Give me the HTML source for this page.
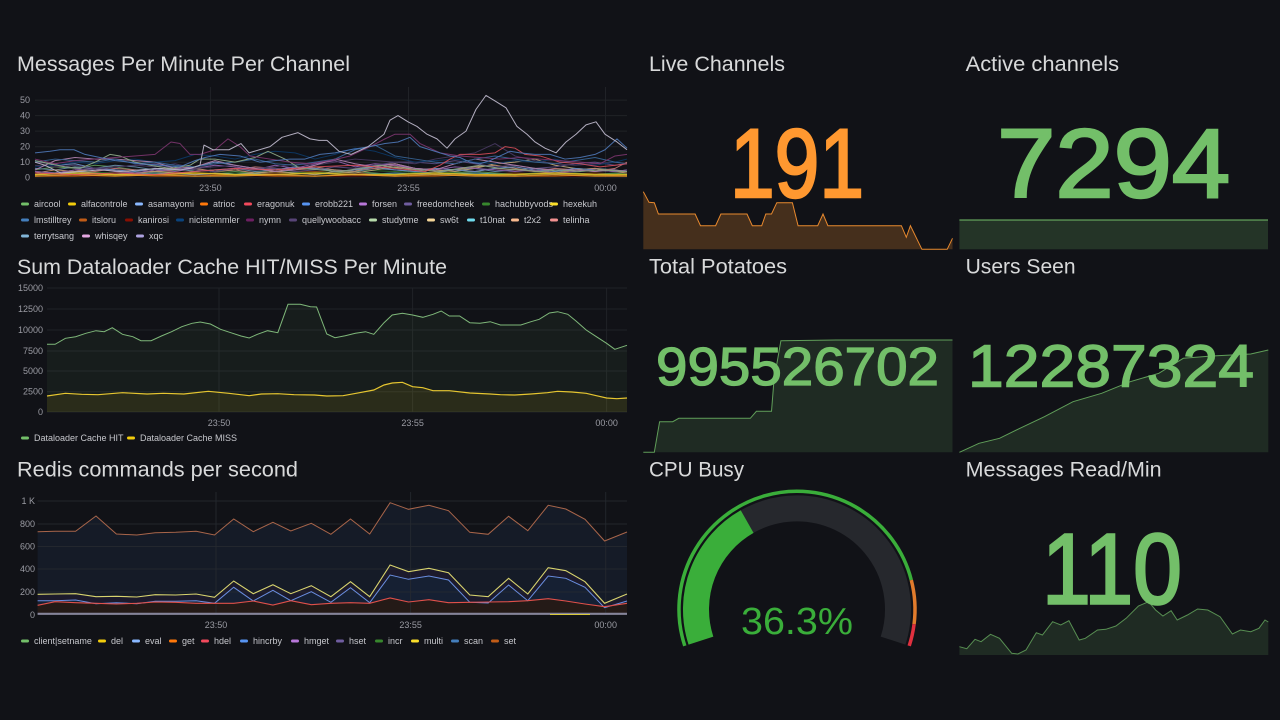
<!DOCTYPE html>
<html><head><meta charset="utf-8">
<style>
html,body{margin:0;padding:0;background:#111217;}
svg{display:block;}
text{font-family:"Liberation Sans",sans-serif;}
.t{fill:#d8d9da;font-size:21px;}
.ax{fill:#9a9ba3;font-size:9px;}
.lg{fill:#c6c7cc;font-size:9px;}
.g{stroke:#202227;stroke-width:1;}
.s{fill:none;stroke-width:1;vector-effect:non-scaling-stroke;stroke-linejoin:round;}
</style></head>
<body>
<svg width="1280" height="720" viewBox="0 0 1280 720" xmlns="http://www.w3.org/2000/svg">
<rect width="1280" height="720" fill="#111217"/>

<!-- ============ Panel 1 ============ -->
<text class="t" x="17" y="71" textLength="333" lengthAdjust="spacingAndGlyphs">Messages Per Minute Per Channel</text>
<g class="g">
<line x1="35" y1="100.1" x2="627" y2="100.1"/><line x1="35" y1="115.6" x2="627" y2="115.6"/>
<line x1="35" y1="131.1" x2="627" y2="131.1"/><line x1="35" y1="146.7" x2="627" y2="146.7"/>
<line x1="35" y1="162.2" x2="627" y2="162.2"/><line x1="35" y1="177.7" x2="627" y2="177.7"/>
<line x1="210.4" y1="87" x2="210.4" y2="178"/><line x1="408.5" y1="87" x2="408.5" y2="178"/><line x1="605.5" y1="87" x2="605.5" y2="178"/>
</g>
<g class="ax" text-anchor="end">
<text x="30" y="103">50</text><text x="30" y="118.5">40</text><text x="30" y="134">30</text>
<text x="30" y="149.7">20</text><text x="30" y="165.2">10</text><text x="30" y="180.7">0</text>
</g>
<g class="ax" text-anchor="middle">
<text x="210.4" y="191">23:50</text><text x="408.5" y="191">23:55</text><text x="605.5" y="191">00:00</text>
</g>
<g transform="translate(0,177.7) scale(1,-1.553)">
<g opacity="0.7">
<polyline class="s" stroke="#890F02" points="35,1 115,1 195,2 275,1 355,1 435,2 515,1 595,1 627,1"/>
<polyline class="s" stroke="#FF780A" points="35,1 75,1 115,2 155,1 195,1 235,2 275,1 315,1 355,2 395,1 435,1 475,2 515,1 555,1 595,2 627,1"/>
<polyline class="s" stroke="#C15C17" points="35,3 75,2 115,3 155,4 195,3 235,2 275,3 315,4 355,3 395,2 435,3 475,2 515,3 555,2 595,3 627,2"/>
<polyline class="s" stroke="#70DBED" points="35,2 75,3 115,2 155,3 195,2 235,3 275,2 315,3 355,2 395,3 435,2 475,3 515,2 555,3 595,2 627,3"/>
<polyline class="s" stroke="#37872D" points="35,3 75,4 115,3 155,4 195,5 235,3 275,4 315,3 355,5 395,4 435,3 475,4 515,2 555,3 595,2 627,3"/>
<polyline class="s" stroke="#73BF69" points="35,5 55,7 75,6 95,8 115,7 135,5 155,4 175,3 195,4 215,5 235,4 255,3 275,4 295,3 315,2 335,3 355,4 375,3 395,2 415,3 435,2 455,3 475,4 495,3 515,2 535,3 555,2 575,3 595,2 615,3 627,2"/>
<polyline class="s" stroke="#82B5D8" points="35,6 55,5 75,7 95,6 115,8 135,7 155,5 175,6 195,4 215,5 235,6 255,4 275,5 295,7 315,6 335,5 355,4 375,6 395,5 415,4 435,3 455,5 475,6 495,4 515,5 535,6 555,4 575,5 595,6 615,5 627,4"/>
<polyline class="s" stroke="#F29191" points="35,4 55,3 75,5 95,4 115,6 135,5 155,4 175,6 195,5 215,4 235,5 255,7 275,6 295,5 315,6 335,4 355,5 375,6 395,8 415,5 435,6 455,5 475,4 495,6 515,5 535,4 555,6 575,5 595,4 615,6 627,10"/>
<polyline class="s" stroke="#F9BA8F" points="35,3 55,5 75,4 95,6 115,5 135,3 155,4 175,5 195,6 215,4 235,5 255,3 275,4 295,6 315,7 335,5 355,4 375,8 395,9 415,6 435,4 455,5 475,7 495,8 515,6 535,4 555,3 575,5 595,6 615,4 627,3"/>
<polyline class="s" stroke="#F4D598" points="35,2 55,3 75,4 95,3 115,2 135,3 155,4 175,3 195,2 215,3 235,2 255,3 275,4 295,3 315,2 335,4 355,3 375,5 395,7 415,6 435,5 455,4 475,6 495,9 515,10 535,12 555,8 575,6 595,5 615,4 627,4"/>
<polyline class="s" stroke="#8AB8FF" points="35,11 55,8 75,9 95,6 115,5 135,4 155,6 175,5 195,7 215,10 235,8 255,6 275,5 295,7 315,6 335,4 355,5 375,7 395,5 415,4 435,6 455,5 475,4 495,6 515,7 535,5 555,4 575,6 595,5 615,4 627,5"/>
<polyline class="s" stroke="#B877D9" points="35,4 55,3 75,5 95,6 115,4 135,3 155,5 175,4 195,6 215,8 235,7 255,5 275,8 295,6 315,9 335,11 355,7 375,9 395,8 415,6 435,5 455,7 475,6 495,5 515,4 535,5 555,3 575,4 595,5 615,4 627,5"/>
<polyline class="s" stroke="#705DA0" points="35,10 55,9 75,6 95,5 115,7 135,8 155,9 175,6 195,5 215,4 235,6 255,5 275,6 295,4 315,5 335,7 355,6 375,8 395,10 415,10 435,9 455,11 475,9 495,7 515,8 535,6 555,7 575,9 595,10 615,8 627,9"/>
<polyline class="s" stroke="#584477" points="35,8 55,7 75,8 95,6 115,7 135,8 155,7 175,9 195,6 215,7 235,8 255,6 275,7 295,9 315,8 335,10 355,12 375,11 395,10 415,9 435,12 455,14 475,16 495,22 515,14 535,11 555,9 575,8 595,9 615,10 627,9"/>
<polyline class="s" stroke="#0A437C" points="35,7 55,8 75,10 95,9 115,11 135,12 155,10 175,11 195,15 215,14 235,12 255,15 275,17 295,16 315,12 335,15 355,19 375,17 395,13 415,10 435,11 455,12 475,10 495,9 515,11 535,10 555,12 575,9 595,8 615,10 627,12"/>
<polyline class="s" stroke="#E5A8E2" points="35,5 55,11 75,13 95,12 115,12 135,11 155,10 175,6 195,7 215,11 235,8 255,6 275,4 295,5 315,8 335,12 355,9 375,7 395,9 415,6 435,5 455,9 475,12 495,10 515,8 535,6 555,5 575,5 595,4 615,5 627,4"/>
<polyline class="s" stroke="#447EBC" points="35,10 55,12 75,11 95,10 115,12 135,9 155,10 175,8 195,7 215,9 235,10 255,12 275,9 295,8 315,10 335,12 355,18 375,21 395,14 415,12 435,10 455,9 475,12 495,14 515,12 535,10 555,9 575,11 595,13 615,10 627,9"/>
<polyline class="s" stroke="#B7DBAB" points="35,11 50,9 65,7 80,6 95,10 110,15 120,14 135,10 150,8 170,6 190,8 200,12 215,12 235,10 255,13 268,17 285,12 300,6 320,5 340,4 360,6 380,8 400,6 420,5 440,4 460,6 480,8 500,6 520,5 540,4 560,5 580,4 600,5 627,4"/>
</g>
<polyline class="s" stroke="#e0bf20" style="stroke-width:1.5" opacity="0.85" points="35,2 75,3 115,2 155,2 195,3 235,2 275,2 315,3 355,2 395,2 435,3 475,2 515,2 555,3 595,2 627,2"/>
<polyline class="s" stroke="#e8a030" style="stroke-width:1.3" opacity="0.8" points="35,1 75,2 115,1 155,2 195,1 235,1 275,2 315,1 355,2 395,1 435,2 475,1 515,1 555,2 595,1 627,1"/>
<polyline class="s" stroke="#e0505c" opacity="0.85" points="35,3 75,2 115,3 155,2 195,4 235,6 275,5 315,7 355,8 395,6 425,4 440,8 450,12 460,15 480,15 495,16 505,20 515,19 525,15 540,14 560,10 580,9 600,7 615,8 627,9"/>
<polyline class="s" stroke="#7e3670" opacity="0.9" points="35,12 55,9 75,11 95,12 115,13 135,14 155,15 171,23 180,22 190,15 200,15 215,18 228,25 240,20 250,14 270,12 290,10 310,9 330,11 350,14 370,20 385,25 395,28 410,28 420,22 440,16 460,14 480,13 500,12 520,13 540,12 560,11 580,10 600,9 615,14 627,15"/>
<polyline class="s" stroke="#4f78b8" opacity="0.9" points="35,16 50,17 60,18 74,18 85,15 100,13 115,11 130,10 140,9 160,8 180,7 195,11 205,13 220,15 240,14 260,10 275,11 290,12 305,12 320,15 335,16 350,18 370,20 385,22 398,23 410,26 420,20 430,18 440,16 450,14 460,13 470,10 480,9 490,11 500,14 510,17 520,16 535,15 550,15 565,12 580,13 595,15 605,18 617,25 627,19"/>
<polyline class="s" stroke="#b3aec0" points="35,10 45,8 61,3 80,4 100,5 120,4 140,5 160,6 180,5 190,6 200,8 204,21 213,18 229,18 241,22 249,16 270,20 282,26 298,29 310,25 319,24 327,24 339,17 351,15 368,20 384,28 390,37 398,40 408,36 417,33 427,28 437,25 447,19 455,25 466,30 476,44 486,53 496,49 506,45 517,33 527,28 535,23 545,19 556,16 566,23 576,28 586,34 596,36 605,28 617,23 627,18"/>
</g>
<!-- legend 1 -->
<g>
<rect x="21" y="202.5" width="8" height="3" rx="1.5" fill="#73BF69"/><text class="lg" x="34" y="207">aircool</text>
<rect x="68" y="202.5" width="8" height="3" rx="1.5" fill="#F2CC0C"/><text class="lg" x="81" y="207">alfacontrole</text>
<rect x="135" y="202.5" width="8" height="3" rx="1.5" fill="#8AB8FF"/><text class="lg" x="148" y="207">asamayomi</text>
<rect x="200" y="202.5" width="8" height="3" rx="1.5" fill="#FF780A"/><text class="lg" x="213" y="207">atrioc</text>
<rect x="244" y="202.5" width="8" height="3" rx="1.5" fill="#F2495C"/><text class="lg" x="257" y="207">eragonuk</text>
<rect x="302" y="202.5" width="8" height="3" rx="1.5" fill="#5794F2"/><text class="lg" x="315" y="207">erobb221</text>
<rect x="359" y="202.5" width="8" height="3" rx="1.5" fill="#B877D9"/><text class="lg" x="372" y="207">forsen</text>
<rect x="404" y="202.5" width="8" height="3" rx="1.5" fill="#705DA0"/><text class="lg" x="417" y="207">freedomcheek</text>
<rect x="482" y="202.5" width="8" height="3" rx="1.5" fill="#37872D"/><text class="lg" x="495" y="207">hachubbyvods</text>
<rect x="550" y="202.5" width="8" height="3" rx="1.5" fill="#FADE2A"/><text class="lg" x="563" y="207">hexekuh</text>

<rect x="21" y="218.5" width="8" height="3" rx="1.5" fill="#447EBC"/><text class="lg" x="34" y="223">lmstilltrey</text>
<rect x="79" y="218.5" width="8" height="3" rx="1.5" fill="#C15C17"/><text class="lg" x="92" y="223">itsloru</text>
<rect x="125" y="218.5" width="8" height="3" rx="1.5" fill="#890F02"/><text class="lg" x="138" y="223">kanirosi</text>
<rect x="176" y="218.5" width="8" height="3" rx="1.5" fill="#0A437C"/><text class="lg" x="189" y="223">nicistemmler</text>
<rect x="246" y="218.5" width="8" height="3" rx="1.5" fill="#6D1F62"/><text class="lg" x="259" y="223">nymn</text>
<rect x="289" y="218.5" width="8" height="3" rx="1.5" fill="#584477"/><text class="lg" x="302" y="223">quellywoobacc</text>
<rect x="369" y="218.5" width="8" height="3" rx="1.5" fill="#B7DBAB"/><text class="lg" x="382" y="223">studytme</text>
<rect x="427" y="218.5" width="8" height="3" rx="1.5" fill="#F4D598"/><text class="lg" x="440" y="223">sw6t</text>
<rect x="467" y="218.5" width="8" height="3" rx="1.5" fill="#70DBED"/><text class="lg" x="480" y="223">t10nat</text>
<rect x="511" y="218.5" width="8" height="3" rx="1.5" fill="#F9BA8F"/><text class="lg" x="524" y="223">t2x2</text>
<rect x="550" y="218.5" width="8" height="3" rx="1.5" fill="#F29191"/><text class="lg" x="563" y="223">telinha</text>

<rect x="21" y="234.5" width="8" height="3" rx="1.5" fill="#82B5D8"/><text class="lg" x="34" y="239">terrytsang</text>
<rect x="82" y="234.5" width="8" height="3" rx="1.5" fill="#E5A8E2"/><text class="lg" x="95" y="239">whisqey</text>
<rect x="136" y="234.5" width="8" height="3" rx="1.5" fill="#AEA2E0"/><text class="lg" x="149" y="239">xqc</text>
</g>

<!-- ============ Panel 2 ============ -->
<text class="t" x="17" y="274" textLength="430" lengthAdjust="spacingAndGlyphs">Sum Dataloader Cache HIT/MISS Per Minute</text>
<g class="g">
<line x1="47" y1="288" x2="627" y2="288"/><line x1="47" y1="309" x2="627" y2="309"/>
<line x1="47" y1="330" x2="627" y2="330"/><line x1="47" y1="351" x2="627" y2="351"/>
<line x1="47" y1="371" x2="627" y2="371"/><line x1="47" y1="391.7" x2="627" y2="391.7"/>
<line x1="47" y1="412" x2="627" y2="412"/>
<line x1="219" y1="288" x2="219" y2="412"/><line x1="412.6" y1="288" x2="412.6" y2="412"/><line x1="606.6" y1="288" x2="606.6" y2="412"/>
</g>
<g class="ax" text-anchor="end">
<text x="43" y="291">15000</text><text x="43" y="312">12500</text><text x="43" y="333">10000</text>
<text x="43" y="354">7500</text><text x="43" y="374">5000</text><text x="43" y="394.7">2500</text><text x="43" y="415">0</text>
</g>
<g class="ax" text-anchor="middle">
<text x="219" y="426">23:50</text><text x="412.6" y="426">23:55</text><text x="606.6" y="426">00:00</text>
</g>
<polygon fill="#73BF69" fill-opacity="0.07" points="47,412 47,344.3 55.1,344.3 65.4,338.3 75.6,336.7 85.8,333.3 96,330.7 104.2,331.7 112.3,327.7 122.5,334.3 132.8,336.7 140.9,340.7 151.1,340.7 161.4,336 171.6,331.7 181.8,326.7 192,323.3 200.2,322 210.4,324 220.6,329.3 230.8,332.7 241,336 249.2,338 257.4,334.3 267.6,330.7 277.8,332.7 288,304.3 300.2,304.3 310.5,306.7 316.6,307 326.8,334 335,337.7 345.2,335.7 355.4,333.3 365.6,331.7 373.8,334.3 384,322.7 392.2,315 402.4,313.3 412.6,315 422.8,317.3 433,314.3 441.2,311 449.3,316 459.6,316 469.8,322.7 480,323.3 490.2,321.7 500.4,325 510.6,325 520.8,325 531,321.7 539.2,319.3 549.4,313 557.6,311.7 567.8,314.3 576,321 586.2,330 596.4,336.7 606.6,343.3 614.8,349.3 620.9,347.3 627,345.3 627,412"/>
<polygon fill="#F2CC0C" fill-opacity="0.09" points="47,412 47,396 65.4,393.3 81.7,394.3 98,394.7 122.5,392.7 147.1,394 163.4,393.3 183.8,394 208.3,391.3 228.8,393.3 249.2,395.7 261.4,394 277.8,393.7 294.1,394.7 314.5,395 326.8,396 343.1,395.7 359.5,392.7 373.8,390 384,385 392.2,383 402.4,382.3 412.6,386.7 422.8,387.7 433,390.7 449.3,390.7 469.8,393 490.2,394 500.4,394.7 514.7,395 531,394 547.4,392.7 557.6,391.3 571.9,392 586.2,393.3 596.4,395.7 606.6,398 616.8,398.7 627,398 627,412"/>
<polyline fill="none" stroke="#7fb87a" stroke-width="1" points="47,344.3 55.1,344.3 65.4,338.3 75.6,336.7 85.8,333.3 96,330.7 104.2,331.7 112.3,327.7 122.5,334.3 132.8,336.7 140.9,340.7 151.1,340.7 161.4,336 171.6,331.7 181.8,326.7 192,323.3 200.2,322 210.4,324 220.6,329.3 230.8,332.7 241,336 249.2,338 257.4,334.3 267.6,330.7 277.8,332.7 288,304.3 300.2,304.3 310.5,306.7 316.6,307 326.8,334 335,337.7 345.2,335.7 355.4,333.3 365.6,331.7 373.8,334.3 384,322.7 392.2,315 402.4,313.3 412.6,315 422.8,317.3 433,314.3 441.2,311 449.3,316 459.6,316 469.8,322.7 480,323.3 490.2,321.7 500.4,325 510.6,325 520.8,325 531,321.7 539.2,319.3 549.4,313 557.6,311.7 567.8,314.3 576,321 586.2,330 596.4,336.7 606.6,343.3 614.8,349.3 620.9,347.3 627,345.3"/>
<polyline fill="none" stroke="#e6c630" stroke-width="1.2" points="47,396 65.4,393.3 81.7,394.3 98,394.7 122.5,392.7 147.1,394 163.4,393.3 183.8,394 208.3,391.3 228.8,393.3 249.2,395.7 261.4,394 277.8,393.7 294.1,394.7 314.5,395 326.8,396 343.1,395.7 359.5,392.7 373.8,390 384,385 392.2,383 402.4,382.3 412.6,386.7 422.8,387.7 433,390.7 449.3,390.7 469.8,393 490.2,394 500.4,394.7 514.7,395 531,394 547.4,392.7 557.6,391.3 571.9,392 586.2,393.3 596.4,395.7 606.6,398 616.8,398.7 627,398"/>
<rect x="21" y="436.5" width="8" height="3" rx="1.5" fill="#73BF69"/><text class="lg" x="34" y="441">Dataloader Cache HIT</text>
<rect x="127" y="436.5" width="8" height="3" rx="1.5" fill="#F2CC0C"/><text class="lg" x="140" y="441">Dataloader Cache MISS</text>

<!-- ============ Panel 3 ============ -->
<text class="t" x="17" y="476.7" textLength="281" lengthAdjust="spacingAndGlyphs">Redis commands per second</text>
<polygon fill="#151b27" points="37.6,615 37.6,531.7 55.1,531.3 75.6,531.3 96,516 116.4,534 136.8,535 155.2,532.7 175.7,532.3 196.1,531.3 214.5,535 233.7,519 253.3,531.7 272.9,522.3 290.8,531 311.3,523.3 330.9,534.3 350.5,519 369.7,534 390.1,502.7 408.5,509.3 428.9,505.3 448.5,510.7 469.8,532.3 488.2,534.3 508.6,516.3 527.8,530.7 548.2,505.3 565.8,509 585,519.3 604.6,541 627,532 627,615"/>
<polygon fill="#1c1a2c" points="37.6,615 37.6,594.3 55.1,594 75.6,593.7 96,596.7 116.4,596.3 136.8,597 155.2,594.7 175.7,595 196.1,594 214.5,597.3 233.7,581 253.3,593.7 272.9,584.7 290.8,593.7 311.3,585.7 330.9,596.7 350.5,581.7 369.7,596.7 390.1,565 408.5,571.7 428.9,568.3 448.5,572.7 469.8,595 488.2,596.7 508.6,578.3 527.8,594 548.2,567.7 565.8,570.7 585,581.7 604.6,603.3 627,594 627,615"/>
<polygon fill="#162033" points="37.6,615 37.6,600.7 55.1,600.7 75.6,600 96,603.7 116.4,602.7 136.8,603.7 155.2,601.3 175.7,601.3 196.1,600.7 214.5,603.3 233.7,587.3 253.3,601 272.9,590.3 290.8,600.7 311.3,591.7 330.9,602.3 350.5,587.7 369.7,602.7 390.1,575 408.5,579.3 428.9,576 448.5,580 469.8,602.3 488.2,603 508.6,585 527.8,600.7 548.2,576 565.8,578.3 585,587.3 604.6,607.7 627,601 627,615"/>
<polygon fill="#241a17" points="37.6,615 37.6,605.3 55.1,601.7 75.6,602.7 96,603.3 116.4,604 136.8,603.3 155.2,602 175.7,602.3 196.1,603.3 214.5,603.3 233.7,603.3 253.3,601 272.9,605 290.8,600.7 311.3,604.7 330.9,603.3 350.5,602.7 369.7,603.3 390.1,598 408.5,602 428.9,599.7 448.5,602.7 469.8,602.3 488.2,602 508.6,601.7 527.8,600.7 548.2,598.7 565.8,601 585,604 604.6,606.7 627,603.3 627,615"/>
<g class="g" style="stroke:#272a31;stroke-opacity:0.8">
<line x1="37.6" y1="501" x2="627" y2="501"/><line x1="37.6" y1="524" x2="627" y2="524"/>
<line x1="37.6" y1="546.5" x2="627" y2="546.5"/><line x1="37.6" y1="569" x2="627" y2="569"/>
<line x1="37.6" y1="592" x2="627" y2="592"/>
<line x1="216" y1="492" x2="216" y2="615"/><line x1="410.6" y1="492" x2="410.6" y2="615"/><line x1="605.7" y1="492" x2="605.7" y2="615"/>
</g>
<g class="ax" text-anchor="end">
<text x="35" y="504">1 K</text><text x="35" y="527">800</text><text x="35" y="549.5">600</text>
<text x="35" y="572">400</text><text x="35" y="595">200</text><text x="35" y="618">0</text>
</g>
<g class="ax" text-anchor="middle">
<text x="216" y="628">23:50</text><text x="410.6" y="628">23:55</text><text x="605.7" y="628">00:00</text>
</g>
<polyline fill="none" stroke="#a8654a" stroke-width="1" points="37.6,531.7 55.1,531.3 75.6,531.3 96,516 116.4,534 136.8,535 155.2,532.7 175.7,532.3 196.1,531.3 214.5,535 233.7,519 253.3,531.7 272.9,522.3 290.8,531 311.3,523.3 330.9,534.3 350.5,519 369.7,534 390.1,502.7 408.5,509.3 428.9,505.3 448.5,510.7 469.8,532.3 488.2,534.3 508.6,516.3 527.8,530.7 548.2,505.3 565.8,509 585,519.3 604.6,541 627,532"/>
<polyline fill="none" stroke="#d8d46e" stroke-width="1.1" points="37.6,594.3 55.1,594 75.6,593.7 96,596.7 116.4,596.3 136.8,597 155.2,594.7 175.7,595 196.1,594 214.5,597.3 233.7,581 253.3,593.7 272.9,584.7 290.8,593.7 311.3,585.7 330.9,596.7 350.5,581.7 369.7,596.7 390.1,565 408.5,571.7 428.9,568.3 448.5,572.7 469.8,595 488.2,596.7 508.6,578.3 527.8,594 548.2,567.7 565.8,570.7 585,581.7 604.6,603.3 627,594"/>
<polyline fill="none" stroke="#6a8ee0" stroke-width="1" points="37.6,600.7 55.1,600.7 75.6,600 96,603.7 116.4,602.7 136.8,603.7 155.2,601.3 175.7,601.3 196.1,600.7 214.5,603.3 233.7,587.3 253.3,601 272.9,590.3 290.8,600.7 311.3,591.7 330.9,602.3 350.5,587.7 369.7,602.7 390.1,575 408.5,579.3 428.9,576 448.5,580 469.8,602.3 488.2,603 508.6,585 527.8,600.7 548.2,576 565.8,578.3 585,587.3 604.6,607.7 627,601"/>
<polyline fill="none" stroke="#e0504a" stroke-width="1.1" points="37.6,605.3 55.1,601.7 75.6,602.7 96,603.3 116.4,604 136.8,603.3 155.2,602 175.7,602.3 196.1,603.3 214.5,603.3 233.7,603.3 253.3,601 272.9,605 290.8,600.7 311.3,604.7 330.9,603.3 350.5,602.7 369.7,603.3 390.1,598 408.5,602 428.9,599.7 448.5,602.7 469.8,602.3 488.2,602 508.6,601.7 527.8,600.7 548.2,598.7 565.8,601 585,604 604.6,606.7 627,603.3"/>
<line x1="37.6" y1="613.8" x2="627" y2="613.8" stroke="#85849a" stroke-width="2.2"/>
<line x1="550" y1="614.5" x2="590" y2="614.5" stroke="#d8c83a" stroke-width="1"/>
<g>
<rect x="21" y="639.5" width="8" height="3" rx="1.5" fill="#73BF69"/><text class="lg" x="34" y="644">client|setname</text>
<rect x="98" y="639.5" width="8" height="3" rx="1.5" fill="#F2CC0C"/><text class="lg" x="111" y="644">del</text>
<rect x="132" y="639.5" width="8" height="3" rx="1.5" fill="#8AB8FF"/><text class="lg" x="145" y="644">eval</text>
<rect x="169" y="639.5" width="8" height="3" rx="1.5" fill="#FF780A"/><text class="lg" x="182" y="644">get</text>
<rect x="201" y="639.5" width="8" height="3" rx="1.5" fill="#F2495C"/><text class="lg" x="214" y="644">hdel</text>
<rect x="240" y="639.5" width="8" height="3" rx="1.5" fill="#5794F2"/><text class="lg" x="253" y="644">hincrby</text>
<rect x="291" y="639.5" width="8" height="3" rx="1.5" fill="#B877D9"/><text class="lg" x="304" y="644">hmget</text>
<rect x="336" y="639.5" width="8" height="3" rx="1.5" fill="#705DA0"/><text class="lg" x="349" y="644">hset</text>
<rect x="375" y="639.5" width="8" height="3" rx="1.5" fill="#37872D"/><text class="lg" x="388" y="644">incr</text>
<rect x="411" y="639.5" width="8" height="3" rx="1.5" fill="#FADE2A"/><text class="lg" x="424" y="644">multi</text>
<rect x="451" y="639.5" width="8" height="3" rx="1.5" fill="#447EBC"/><text class="lg" x="464" y="644">scan</text>
<rect x="491" y="639.5" width="8" height="3" rx="1.5" fill="#C15C17"/><text class="lg" x="504" y="644">set</text>
</g>

<!-- ============ Live Channels ============ -->
<text class="t" x="649" y="71" textLength="136" lengthAdjust="spacingAndGlyphs">Live Channels</text>
<polygon fill="#FF9830" fill-opacity="0.22" points="643.3,249.3 643.3,191.7 649,202.3 654.3,202.7 658.4,214 695.1,214 700.5,225.7 715.6,225.7 720.9,214 747,214 752.3,225.7 761.7,225.7 765.8,214 771.5,214 776.8,202.7 792.4,202.7 798.1,225.7 817.7,225.7 823,214 827.9,225.7 901.4,225.7 906.3,237.3 910.4,225.7 921.9,249.3 947.2,249.3 952.5,238.3 952.5,249.3"/>
<polyline fill="none" stroke="#e8892e" stroke-width="1" points="643.3,191.7 649,202.3 654.3,202.7 658.4,214 695.1,214 700.5,225.7 715.6,225.7 720.9,214 747,214 752.3,225.7 761.7,225.7 765.8,214 771.5,214 776.8,202.7 792.4,202.7 798.1,225.7 817.7,225.7 823,214 827.9,225.7 901.4,225.7 906.3,237.3 910.4,225.7 921.9,249.3 947.2,249.3 952.5,238.3"/>
<text x="797" y="197" font-size="97" fill="#FF9830" stroke="#FF9830" stroke-width="2.5" text-anchor="middle" textLength="134" lengthAdjust="spacingAndGlyphs">191</text>

<!-- ============ Active channels ============ -->
<text class="t" x="965.6" y="71" textLength="153.5" lengthAdjust="spacingAndGlyphs">Active channels</text>
<rect x="959.4" y="220" width="308.6" height="29.3" fill="#73BF69" fill-opacity="0.2"/>
<line x1="959.4" y1="220" x2="1268" y2="220" stroke="#73BF69" stroke-width="1"/>
<text x="1113.7" y="197" font-size="97" fill="#73BF69" stroke="#73BF69" stroke-width="2.5" text-anchor="middle" textLength="233" lengthAdjust="spacingAndGlyphs">7294</text>

<!-- ============ Total Potatoes ============ -->
<text class="t" x="649" y="273.3" textLength="138" lengthAdjust="spacingAndGlyphs">Total Potatoes</text>
<polygon fill="#73BF69" fill-opacity="0.15" points="643.3,452.3 654.3,452.3 659.6,421.7 672.7,421.7 678.8,418.3 750.3,418.3 756.4,411.3 771.5,411.3 774,380 780.9,340.7 836.1,340 952.5,340 952.5,452.3"/>
<polyline fill="none" stroke="#73BF69" stroke-opacity="0.8" stroke-width="1" points="643.3,452.3 654.3,452.3 659.6,421.7 672.7,421.7 678.8,418.3 750.3,418.3 756.4,411.3 771.5,411.3 774,380 780.9,340.7 836.1,340 952.5,340"/>
<text x="797.5" y="385" font-size="53.5" fill="#73BF69" stroke="#73BF69" stroke-width="1.3" text-anchor="middle" textLength="283" lengthAdjust="spacingAndGlyphs">995526702</text>

<!-- ============ Users Seen ============ -->
<text class="t" x="965.6" y="273.3" textLength="110" lengthAdjust="spacingAndGlyphs">Users Seen</text>
<polygon fill="#73BF69" fill-opacity="0.15" points="959.4,452.3 979,443.3 999.5,438.3 1019.9,428.3 1044.4,416.7 1073,401.7 1101.6,393.3 1130.2,381.7 1158.8,373.3 1183.3,358.3 1211.9,356 1250.7,354 1268.3,350 1268.3,452.3"/>
<polyline fill="none" stroke="#73BF69" stroke-opacity="0.8" stroke-width="1" points="959.4,452.3 979,443.3 999.5,438.3 1019.9,428.3 1044.4,416.7 1073,401.7 1101.6,393.3 1130.2,381.7 1158.8,373.3 1183.3,358.3 1211.9,356 1250.7,354 1268.3,350"/>
<text x="1111" y="386.7" font-size="59" fill="#73BF69" stroke="#73BF69" stroke-width="1.4" text-anchor="middle" textLength="286" lengthAdjust="spacingAndGlyphs">12287324</text>

<!-- ============ CPU Busy ============ -->
<text class="t" x="649" y="476.7" textLength="95" lengthAdjust="spacingAndGlyphs">CPU Busy</text>
<path d="M700.94,640.61 A101,101 0 1 1 893.06,640.61" fill="none" stroke="#26282d" stroke-width="26"/>
<path d="M700.94,640.61 A101,101 0 0 1 747.12,521.58" fill="none" stroke="#3aae3a" stroke-width="26"/>
<path d="M684.78,645.86 A118,118 0 1 1 911.29,580.05" fill="none" stroke="#3aae3a" stroke-width="3.5"/>
<path d="M911.29,580.05 A118,118 0 0 1 914.07,624.19" fill="none" stroke="#e07b2c" stroke-width="3.5"/>
<path d="M914.07,624.19 A118,118 0 0 1 909.22,645.86" fill="none" stroke="#e0303f" stroke-width="3.5"/>
<text x="797" y="634" font-size="38" fill="#3aae3a" text-anchor="middle" textLength="112" lengthAdjust="spacingAndGlyphs">36.3%</text>

<!-- ============ Messages Read/Min ============ -->
<text class="t" x="965.6" y="476.7" textLength="196" lengthAdjust="spacingAndGlyphs">Messages Read/Min</text>
<polygon fill="#73BF69" fill-opacity="0.15" points="959.4,655 959.4,646.7 966.8,648.7 975,639.3 981.1,641.7 990.5,634.3 999.5,638.3 1011.7,653.3 1017.9,654 1026,650 1036.3,632.7 1042.4,635 1052.6,621.7 1060.8,625 1068.9,620.7 1079.2,640 1085.3,638.3 1097.5,630 1105.8,629.3 1115.9,626 1126.1,618.3 1138.4,606 1148.6,601.7 1155.6,610 1162.9,616 1171.1,610.7 1177.2,620 1187.4,615 1197.6,609 1207.8,610 1220.1,616.7 1232.4,634 1240.5,630 1250.7,631.7 1258.9,628.3 1265,620 1268.3,622 1268.3,655"/>
<polyline fill="none" stroke="#73BF69" stroke-opacity="0.7" stroke-width="1" points="959.4,646.7 966.8,648.7 975,639.3 981.1,641.7 990.5,634.3 999.5,638.3 1011.7,653.3 1017.9,654 1026,650 1036.3,632.7 1042.4,635 1052.6,621.7 1060.8,625 1068.9,620.7 1079.2,640 1085.3,638.3 1097.5,630 1105.8,629.3 1115.9,626 1126.1,618.3 1138.4,606 1148.6,601.7 1155.6,610 1162.9,616 1171.1,610.7 1177.2,620 1187.4,615 1197.6,609 1207.8,610 1220.1,616.7 1232.4,634 1240.5,630 1250.7,631.7 1258.9,628.3 1265,620 1268.3,622"/>
<text x="1112" y="603.3" font-size="100" fill="#73BF69" stroke="#73BF69" stroke-width="2.5" text-anchor="middle" textLength="140" lengthAdjust="spacingAndGlyphs">110</text>
</svg>
</body></html>
